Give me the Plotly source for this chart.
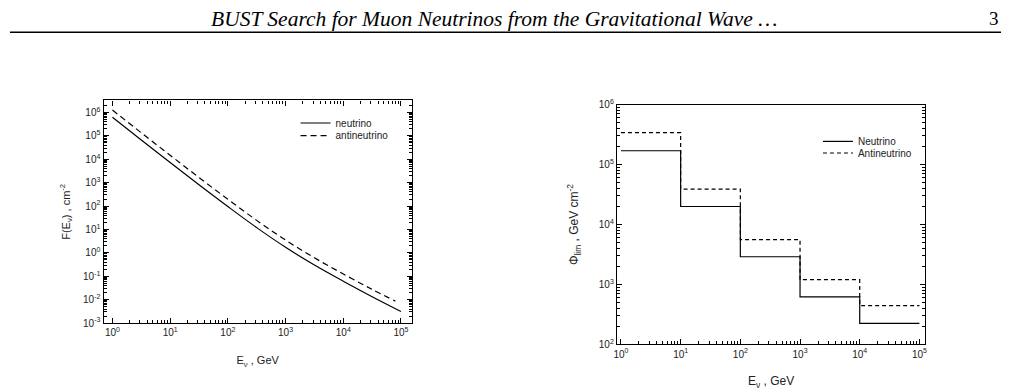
import plotly.graph_objects as go

# ---- left panel data: F(E_nu) curves ----
e_nu = [1, 3.16, 10, 31.6, 100, 316, 1000, 3162, 1e4, 31623, 1e5]
f_nu = [6.17e5, 6.61e4, 7.24e3, 813, 95.5, 12.0, 1.74, 0.302, 0.0617, 0.0135, 0.00316]
e_anu = [1, 3.16, 10, 31.6, 100, 316, 1000, 3162, 1e4, 31623, 8e4]
f_anu = [1.26e6, 1.35e5, 1.48e4, 1660, 195, 24.5, 3.55, 0.617, 0.126, 0.0275, 0.0087]

# ---- right panel data: flux limits per energy decade ----
e_edges = [1, 10, 100, 1000, 1e4, 1e5]
phi_nu = [1.7e5, 2.0e4, 2.9e3, 620, 225]
phi_anu = [3.4e5, 3.9e4, 5.6e3, 1.2e3, 445]

header = "BUST Search for Muon Neutrinos from the Gravitational Wave \u2026"
page_no = "3"

left_yticks = list(range(-3, 7))
right_yticks = list(range(2, 7))
xticks = list(range(0, 6))


def sup(k):
    return "10<sup>%d</sup>" % k


def minor_vals(lo, hi):
    vals = []
    for k in range(lo, hi + 1):
        for m in range(2, 10):
            vals.append(m * 10 ** k)
    return vals


FONT = "Liberation Sans, Arial, sans-serif"
W, H = 1010.0, 391.0

fig = go.Figure()
fig.add_trace(go.Scatter(x=e_nu, y=f_nu, mode="lines", name="neutrino",
                         line=dict(color="black", width=1.2, shape="spline"),
                         xaxis="x", yaxis="y", legend="legend"))
fig.add_trace(go.Scatter(x=e_anu, y=f_anu, mode="lines", name="antineutrino",
                         line=dict(color="black", width=1.2, dash="6px,4px", shape="spline"),
                         xaxis="x", yaxis="y", legend="legend2"))
fig.add_trace(go.Scatter(x=e_edges, y=phi_nu + [phi_nu[-1]], mode="lines", name="Neutrino",
                         line=dict(color="black", width=1.2, shape="hv"),
                         xaxis="x2", yaxis="y2", legend="legend3"))
fig.add_trace(go.Scatter(x=e_edges, y=phi_anu + [phi_anu[-1]], mode="lines", name="Antineutrino",
                         line=dict(color="black", width=1.2, dash="4px,3px", shape="hv"),
                         xaxis="x2", yaxis="y2", legend="legend4"))

common = dict(type="log", showgrid=False, zeroline=False, showline=True,
              linecolor="black", linewidth=1.2, ticks="inside", ticklen=5,
              tickcolor="black", tickwidth=1, tickfont=dict(family=FONT, size=10, color="#222"))


def leg(px, py):
    return dict(x=px / W, y=1 - py / H, xanchor="left", yanchor="middle",
                bgcolor="rgba(0,0,0,0)", font=dict(family=FONT, size=10, color="#222"),
                itemwidth=30, tracegroupgap=0)


fig.update_layout(
    width=1010, height=391, margin=dict(l=0, r=0, t=0, b=0),
    paper_bgcolor="white", plot_bgcolor="white",
    font=dict(family=FONT, color="#222"),
    xaxis=dict(**common, domain=[0.1, 0.4069], anchor="y", range=[-0.155, 5.19],
               tickvals=[10 ** k for k in xticks], ticktext=[sup(k) for k in xticks],
               mirror="allticks",
               minor=dict(ticks="inside", ticklen=3, tickcolor="black",
                          tickvals=minor_vals(0, 4)),
               title=dict(text="E<sub>\u03bd</sub> , GeV", font=dict(size=11), standoff=19)),
    yaxis=dict(**common, domain=[0.1637, 0.7527], anchor="x", range=[-3, 6.51],
               tickvals=[10 ** k for k in left_yticks], ticktext=[sup(k) for k in left_yticks],
               mirror="allticks",
               minor=dict(ticks="inside", ticklen=3, tickcolor="black",
                          tickvals=minor_vals(-3, 6)),
               title=dict(text="F(E<sub>\u03bd</sub>) , cm<sup>-2</sup>", font=dict(size=11), standoff=10)),
    xaxis2=dict(**common, domain=[0.6109, 0.9178], anchor="y2", range=[-0.067, 5.1],
                tickvals=[10 ** k for k in xticks], ticktext=[sup(k) for k in xticks],
                mirror=True,
                minor=dict(ticks="inside", ticklen=3, tickcolor="black",
                           tickvals=minor_vals(0, 4)),
                title=dict(text="E<sub>\u03bd</sub> , GeV", font=dict(size=12), standoff=18)),
    yaxis2=dict(**common, domain=[0.1074, 0.7417], anchor="x2", range=[2, 6],
                tickvals=[10 ** k for k in right_yticks], ticktext=[sup(k) for k in right_yticks],
                mirror="allticks",
                minor=dict(ticks="inside", ticklen=3, tickcolor="black",
                           tickvals=minor_vals(2, 5)),
                title=dict(text="\u03a6<sub>lim</sub> , GeV cm<sup>-2</sup>", font=dict(size=12), standoff=17)),
    legend=leg(294, 120),
    legend2=leg(294, 133),
    legend3=leg(819, 139),
    legend4=leg(819, 151),
    showlegend=True,
)

fig.add_annotation(text="<i>" + header + "</i>", x=493 / W, y=1 - 12 / H, xref="paper", yref="paper",
                   showarrow=False, font=dict(family="Liberation Serif, serif", size=21.5, color="black"),
                   xanchor="center", yanchor="middle")
fig.add_annotation(text=page_no, x=1003 / W, y=1 - 12 / H, xref="paper", yref="paper",
                   showarrow=False, font=dict(family="Liberation Serif, serif", size=19, color="black"),
                   xanchor="right", yanchor="middle")
fig.add_shape(type="line", xref="paper", yref="paper", x0=7 / W, x1=1003 / W,
              y0=1 - 26 / H, y1=1 - 26 / H, line=dict(color="black", width=1.5))

fig.write_html("out.html")
